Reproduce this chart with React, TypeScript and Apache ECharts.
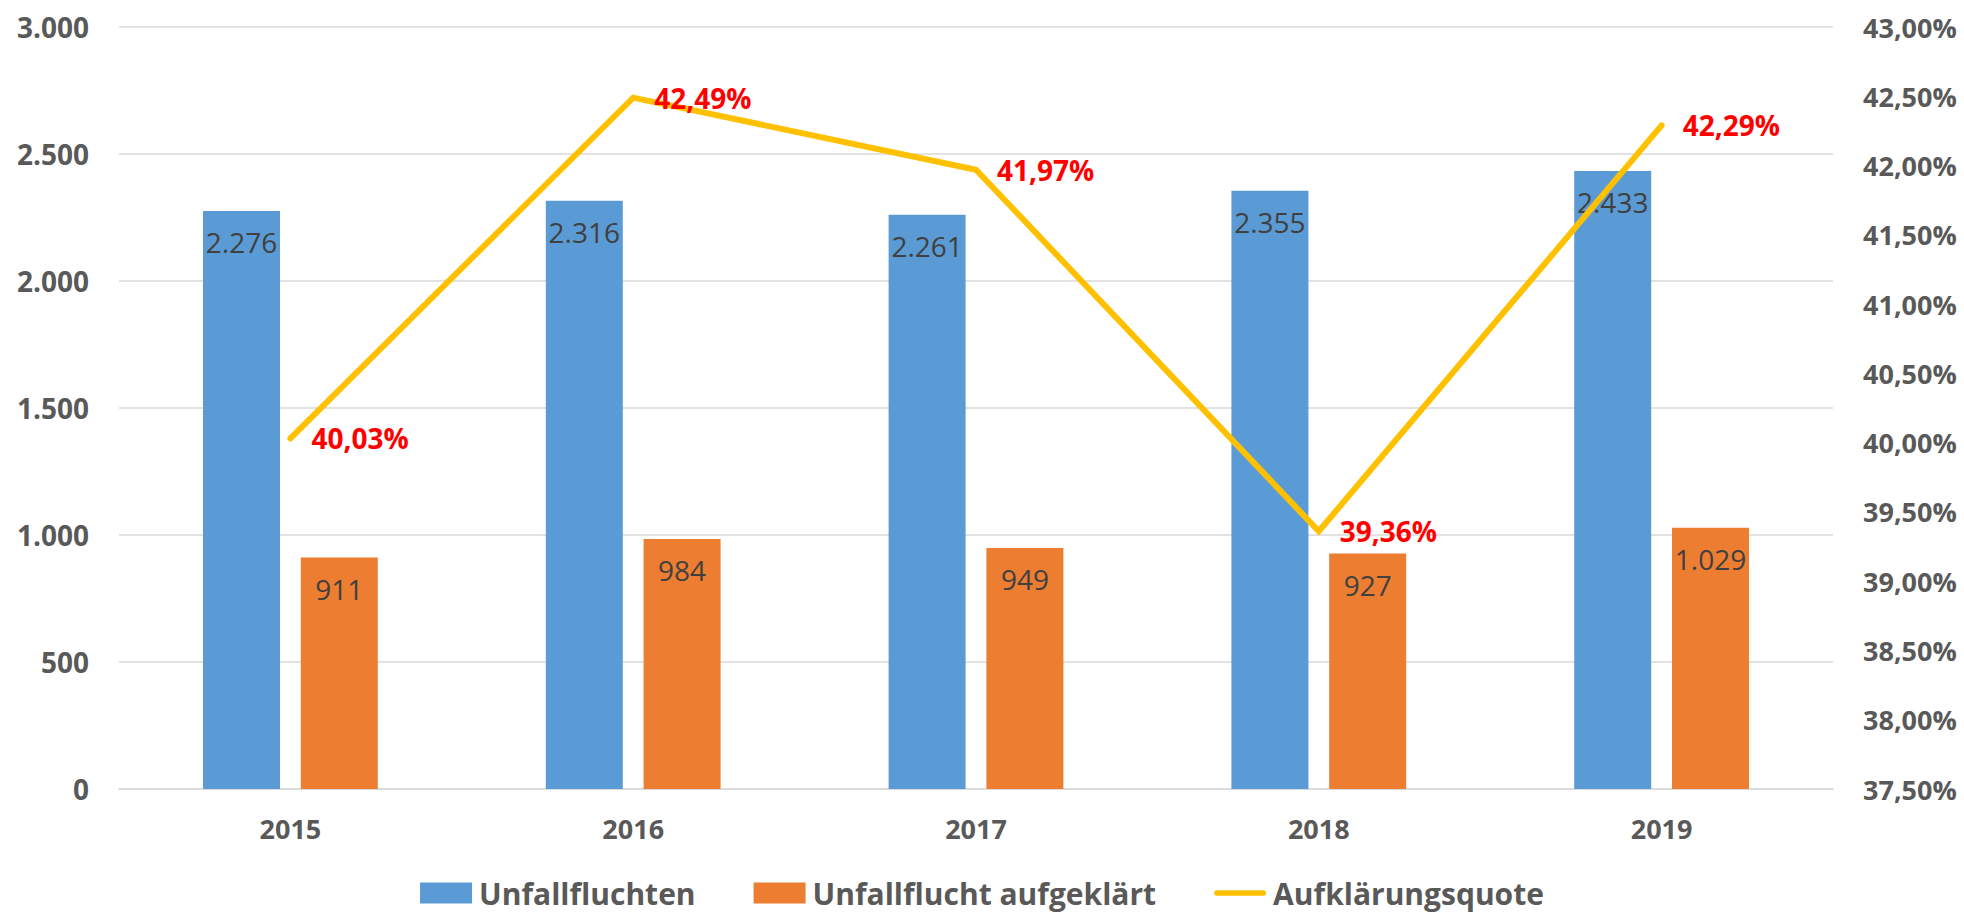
import React, { useEffect, useRef } from "react";
import * as echarts from "echarts";

const years = ["2015", "2016", "2017", "2018", "2019"];
const unfallfluchten = [2276, 2316, 2261, 2355, 2433];
const aufgeklaert = [911, 984, 949, 927, 1029];
const quote = [40.03, 42.49, 41.97, 39.36, 42.29];

const leftTicks = { min: 0, max: 3000, interval: 500 };
const rightTicks = { min: 37.5, max: 43, interval: 0.5 };

const FONT = "'Open Sans', sans-serif";

const fmtThousands = (v: number) =>
  String(Math.round(v)).replace(/\B(?=(\d{3})+(?!\d))/g, ".");
const fmtPct = (v: number) => v.toFixed(2).replace(".", ",") + "%";

export default function App() {
  const ref = useRef<HTMLDivElement>(null);
  useEffect(() => {
    if (!ref.current) return;
    const chart = echarts.init(ref.current, undefined, { renderer: "svg" });
    chart.setOption({
      animation: false,
      backgroundColor: "#ffffff",
      textStyle: { fontFamily: FONT },
      grid: { left: 119, right: 131, top: 27, bottom: 125, containLabel: false },
      legend: {
        left: "center",
        top: 876,
        padding: 0,
        itemWidth: 52,
        itemHeight: 21,
        itemGap: 58,
        textStyle: {
          fontFamily: FONT,
          fontSize: 30,
          lineHeight: 34,
          fontWeight: "bold",
          color: "#595959",
          padding: [0, 0, 0, 2],
        },
        data: [
          { name: "Unfallfluchten", icon: "rect" },
          { name: "Unfallflucht aufgeklärt", icon: "rect" },
          {
            name: "Aufklärungsquote",
            icon: "path://M3,0 H53 A3,3 0 0 1 53,6 H3 A3,3 0 0 1 3,0 Z",
            itemStyle: { color: "#FFC000" },
          },
        ],
      },
      xAxis: {
        type: "category",
        data: years,
        axisLine: { show: true, lineStyle: { color: "#d9d9d9", width: 1.5 } },
        axisTick: { show: false },
        axisLabel: {
          margin: 26,
          fontFamily: FONT,
          fontSize: 27,
          fontWeight: "bold",
          color: "#595959",
        },
      },
      yAxis: [
        {
          type: "value",
          min: leftTicks.min,
          max: leftTicks.max,
          interval: leftTicks.interval,
          axisLine: { show: false },
          axisTick: { show: false },
          splitLine: { lineStyle: { color: "#d9d9d9", width: 1.5 } },
          axisLabel: {
            margin: 30,
            fontFamily: FONT,
            fontSize: 28,
            fontWeight: "bold",
            color: "#595959",
            formatter: (v: number) => fmtThousands(v),
          },
        },
        {
          type: "value",
          min: rightTicks.min,
          max: rightTicks.max,
          interval: rightTicks.interval,
          axisLine: { show: false },
          axisTick: { show: false },
          splitLine: { show: false },
          axisLabel: {
            margin: 30,
            fontFamily: FONT,
            fontSize: 27,
            fontWeight: "bold",
            color: "#595959",
            formatter: (v: number) => fmtPct(v),
          },
        },
      ],
      series: [
        {
          name: "Unfallfluchten",
          type: "bar",
          data: unfallfluchten,
          barWidth: 77,
          barGap: "27%",
          itemStyle: { color: "#5B9BD5" },
          label: {
            show: true,
            position: "insideTop",
            distance: 17,
            fontFamily: FONT,
            fontSize: 28,
            color: "#404040",
            formatter: (p: any) => fmtThousands(p.value),
          },
        },
        {
          name: "Unfallflucht aufgeklärt",
          type: "bar",
          data: aufgeklaert,
          barWidth: 77,
          barGap: "27%",
          itemStyle: { color: "#ED7D31" },
          label: {
            show: true,
            position: "insideTop",
            distance: 17,
            fontFamily: FONT,
            fontSize: 28,
            color: "#404040",
            formatter: (p: any) => fmtThousands(p.value),
          },
        },
        {
          name: "Aufklärungsquote",
          type: "line",
          yAxisIndex: 1,
          data: quote,
          symbol: "circle",
          symbolSize: 0.1,
          showSymbol: true,
          itemStyle: { color: "#FFC000" },
          lineStyle: { color: "#FFC000", width: 6, cap: "round", join: "miter" },
          label: {
            show: true,
            position: "right",
            distance: 21,
            fontFamily: FONT,
            fontSize: 28,
            fontWeight: "bold",
            color: "#FF0000",
            formatter: (p: any) => fmtPct(p.value),
          },
        },
      ],
    });
    return () => chart.dispose();
  }, []);
  return (
    <div
      ref={ref}
      style={{ position: "absolute", left: 0, top: 0, width: 1964, height: 914 }}
    />
  );
}
